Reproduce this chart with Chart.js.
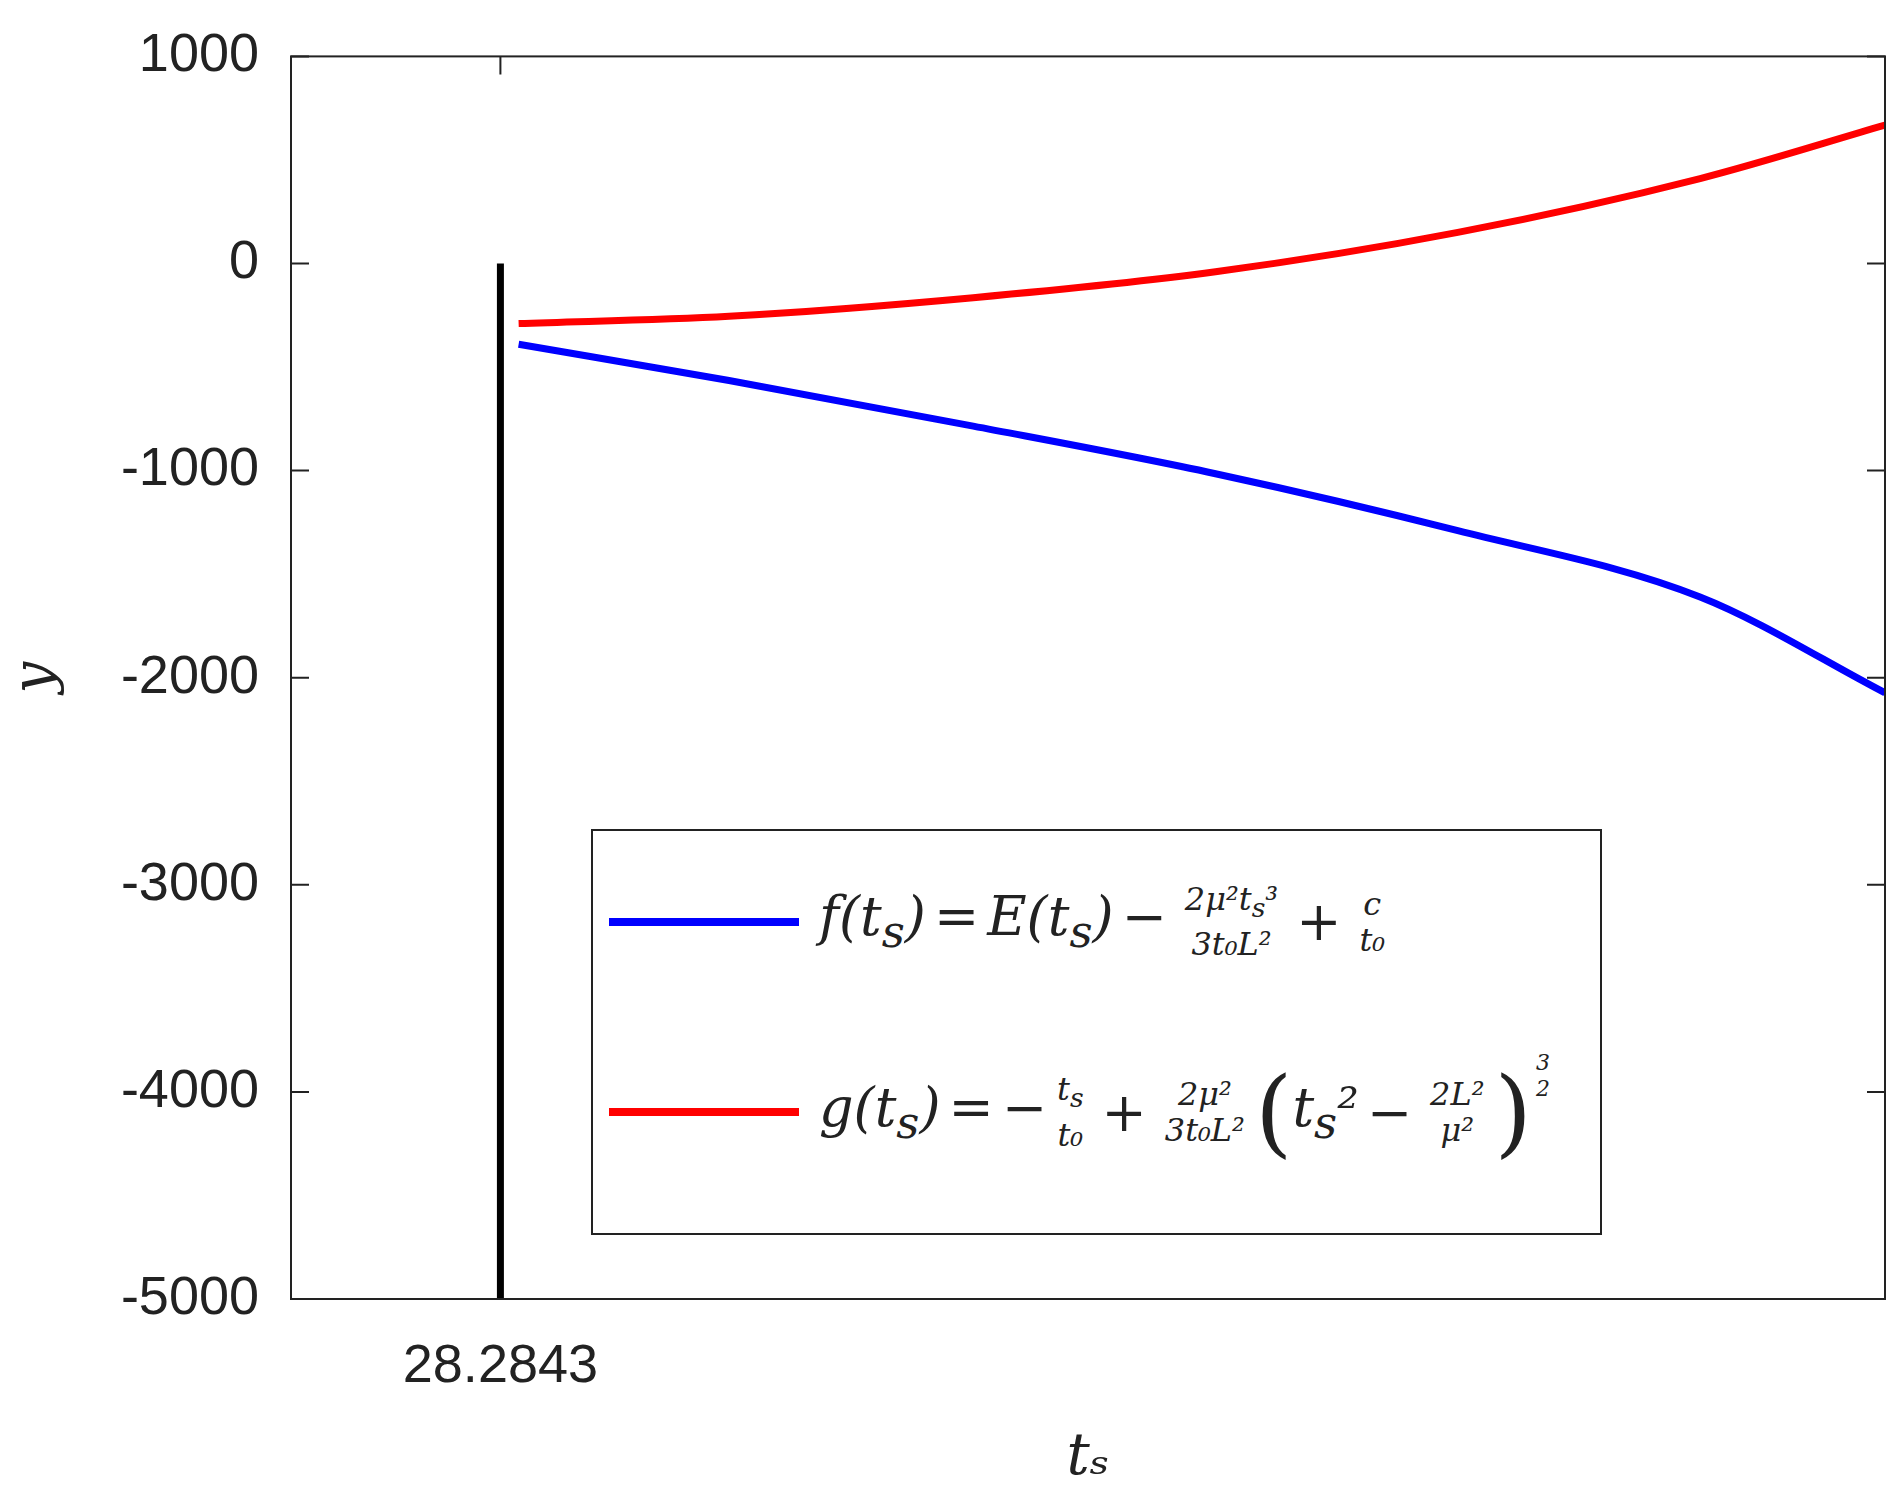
<!DOCTYPE html>
<html><head><meta charset="utf-8">
<script src="https://cdn.jsdelivr.net/npm/chart.js@4/dist/chart.umd.min.js"></script>
<style>
html,body{margin:0;padding:0;background:#fff;}
#wrap{position:relative;width:1901px;height:1498px;}
#legend{position:absolute;left:591px;top:829px;width:1007px;height:402px;border:2px solid #222;background:#fff;font-family:"DejaVu Serif","Liberation Serif",serif;font-style:italic;font-size:54px;color:#222;}
.row{position:absolute;left:16px;display:flex;align-items:center;white-space:nowrap;}
.sw{width:190px;height:8px;margin-right:20px;}
.frac{display:inline-flex;flex-direction:column;align-items:center;font-size:32px;line-height:36px;vertical-align:middle;margin:0 10px;}
.n{font-style:normal;margin:0 8px;}
.p{font-size:96px;font-style:normal;font-weight:100;font-family:"DejaVu Serif";}
</style></head><body>
<div id="wrap"><canvas id="c" width="1901" height="1498"></canvas>
<div id="legend">
 <div class="row" style="top:50px"><div class="sw" style="background:#0000ff"></div>
  <span>f(t<sub>s</sub>)<span class="n">=</span>E(t<sub>s</sub>)<span class="n">−</span></span>
  <span class="frac"><span>2μ²t<sub>s</sub>³</span><span>3t₀L²</span></span><span class="n">+</span>
  <span class="frac"><span>c</span><span>t₀</span></span></div>
 <div class="row" style="top:225px"><div class="sw" style="background:#ff0000"></div>
  <span>g(t<sub>s</sub>)<span class="n">=</span><span class="n" style="margin:0">−</span></span>
  <span class="frac"><span>t<sub>s</sub></span><span>t₀</span></span><span class="n">+</span>
  <span class="frac"><span>2μ²</span><span>3t₀L²</span></span>
  <span class="p">(</span><span>t<sub>s</sub>²</span><span class="n">−</span>
  <span class="frac"><span>2L²</span><span>μ²</span></span><span class="p">)</span>
  <span class="frac" style="align-self:flex-start;font-size:22px;line-height:26px;margin-top:-6px;margin-left:4px"><span>3</span><span>2</span></span></div>
</div></div>
<script>
const tValues = [28.57, 31.87, 35.7, 39.5, 43.3, 47.1, 50];
const fValues = [-390, -565, -785, -1015, -1290, -1610, -2073];
const gValues = [-290, -255, -165, -40, 150, 410, 668];
const criticalT = 28.2843;
const criticalLine = [0, -5000];
const yTicks = [1000, 0, -1000, -2000, -3000, -4000, -5000];

const frame = {id:'frame', afterDraw(ch){
  const {ctx, chartArea:a, scales:{x,y}} = ch;
  ctx.save(); ctx.strokeStyle='#222'; ctx.lineWidth=2;
  ctx.strokeRect(a.left,a.top,a.right-a.left,a.bottom-a.top);
  ctx.beginPath();
  yTicks.forEach(v=>{const p=y.getPixelForValue(v);
    ctx.moveTo(a.left,p);ctx.lineTo(a.left+18,p);ctx.moveTo(a.right,p);ctx.lineTo(a.right-18,p);});
  const px=x.getPixelForValue(criticalT);
  ctx.moveTo(px,a.top);ctx.lineTo(px,a.top+18);
  ctx.stroke(); ctx.restore();
}};

new Chart(document.getElementById('c'), {
  type:'line',
  data:{datasets:[
    {data:tValues.map((t,i)=>({x:t,y:fValues[i]})), borderColor:'#0000ff', borderWidth:7, pointRadius:0, cubicInterpolationMode:'monotone'},
    {data:tValues.map((t,i)=>({x:t,y:gValues[i]})), borderColor:'#ff0000', borderWidth:7, pointRadius:0, cubicInterpolationMode:'monotone'},
    {data:criticalLine.map(v=>({x:criticalT,y:v})), borderColor:'#000', borderWidth:7, pointRadius:0}
  ]},
  options:{responsive:false, animation:false, events:[],
    layout:{padding:{top:48,right:16,left:0,bottom:0}},
    plugins:{legend:{display:false},tooltip:{enabled:false}},
    scales:{
      x:{type:'linear', min:25, max:50, grid:{display:false}, border:{display:false},
        afterBuildTicks:s=>{s.ticks=[{value:criticalT}];},
        afterFit:s=>{s.height=199;},
        ticks:{callback:()=> '28.2843', color:'#222', font:{family:'Liberation Sans, Arial', size:54}, padding:28, maxRotation:0},
        title:{display:true, text:'tₛ', color:'#222', font:{family:'DejaVu Serif', style:'italic', size:58}, padding:{top:6}}},
      y:{min:-5000, max:1000, grid:{display:false}, border:{display:false},
        afterBuildTicks:s=>{s.ticks=yTicks.map(v=>({value:v}));},
        afterFit:s=>{s.width=291;},
        ticks:{callback:v=>String(v), color:'#222', font:{family:'Liberation Sans, Arial', size:54}, padding:24},
        title:{display:true, text:'y', color:'#222', font:{family:'DejaVu Serif', style:'italic', size:56}, padding:{bottom:0}}}
    }},
  plugins:[frame]
});
</script></body></html>
